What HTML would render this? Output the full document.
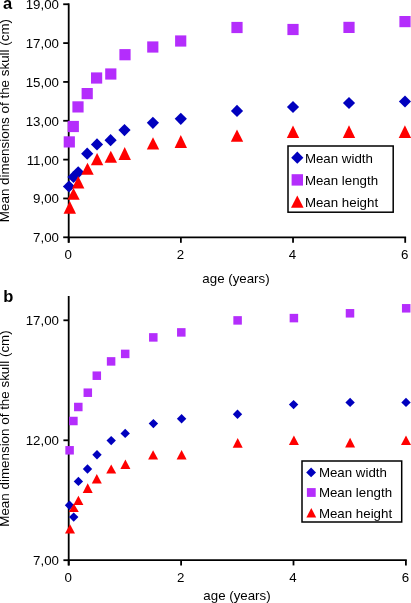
<!DOCTYPE html>
<html><head><meta charset="utf-8"><title>Skull dimensions</title>
<style>
html,body{margin:0;padding:0;background:#fff;}
body{width:411px;height:603px;overflow:hidden;}
svg{display:block;filter:blur(0.35px);}
text{font-family:"Liberation Sans", sans-serif;font-size:13.3px;fill:#000;}
</style></head>
<body>
<svg width="411" height="603" viewBox="0 0 411 603">
<rect width="411" height="603" fill="#fff"/>
<line x1="68.7" y1="3.35" x2="68.7" y2="242.6" stroke="#000" stroke-width="1.8"/>
<line x1="67.8" y1="237.3" x2="406.1" y2="237.3" stroke="#000" stroke-width="1.8"/>
<line x1="63.2" y1="4.25" x2="68.7" y2="4.25" stroke="#000" stroke-width="1.8"/>
<text x="59" y="9.15" text-anchor="end">19,00</text>
<line x1="63.2" y1="43.09" x2="68.7" y2="43.09" stroke="#000" stroke-width="1.8"/>
<text x="59" y="47.99" text-anchor="end">17,00</text>
<line x1="63.2" y1="81.93" x2="68.7" y2="81.93" stroke="#000" stroke-width="1.8"/>
<text x="59" y="86.83" text-anchor="end">15,00</text>
<line x1="63.2" y1="120.78" x2="68.7" y2="120.78" stroke="#000" stroke-width="1.8"/>
<text x="59" y="125.68" text-anchor="end">13,00</text>
<line x1="63.2" y1="159.62" x2="68.7" y2="159.62" stroke="#000" stroke-width="1.8"/>
<text x="59" y="164.52" text-anchor="end">11,00</text>
<line x1="63.2" y1="198.46" x2="68.7" y2="198.46" stroke="#000" stroke-width="1.8"/>
<text x="59" y="203.36" text-anchor="end">9,00</text>
<line x1="63.2" y1="237.3" x2="68.7" y2="237.3" stroke="#000" stroke-width="1.8"/>
<text x="59" y="242.2" text-anchor="end">7,00</text>
<line x1="68.7" y1="237.3" x2="68.7" y2="242.8" stroke="#000" stroke-width="1.8"/>
<text x="68.2" y="259.2" text-anchor="middle">0</text>
<line x1="180.87" y1="237.3" x2="180.87" y2="242.8" stroke="#000" stroke-width="1.8"/>
<text x="180.37" y="259.2" text-anchor="middle">2</text>
<line x1="293.03" y1="237.3" x2="293.03" y2="242.8" stroke="#000" stroke-width="1.8"/>
<text x="292.53" y="259.2" text-anchor="middle">4</text>
<line x1="405.2" y1="237.3" x2="405.2" y2="242.8" stroke="#000" stroke-width="1.8"/>
<text x="404.7" y="259.2" text-anchor="middle">6</text>
<text x="236" y="283.2" text-anchor="middle">age (years)</text>
<text x="0" y="0" text-anchor="middle" transform="translate(9.4 120.55) rotate(-90)" style="font-size:13.4px">Mean dimensions of the skull (cm)</text>
<text x="3" y="8.8" style="font-weight:bold;font-size:16.5px">a</text>
<path d="M69 180.4L75.1 186.5L69 192.6L62.9 186.5Z" fill="#0000be"/>
<path d="M73.5 170.9L79.6 177L73.5 183.1L67.4 177Z" fill="#0000be"/>
<path d="M78.2 166.2L84.3 172.3L78.2 178.4L72.1 172.3Z" fill="#0000be"/>
<path d="M87.2 147.6L93.3 153.7L87.2 159.8L81.1 153.7Z" fill="#0000be"/>
<path d="M97 138.3L103.1 144.4L97 150.5L90.9 144.4Z" fill="#0000be"/>
<path d="M110.6 134.1L116.7 140.2L110.6 146.3L104.5 140.2Z" fill="#0000be"/>
<path d="M124.5 124L130.6 130.1L124.5 136.2L118.4 130.1Z" fill="#0000be"/>
<path d="M152.9 116.7L159 122.8L152.9 128.9L146.8 122.8Z" fill="#0000be"/>
<path d="M180.8 112.7L186.9 118.8L180.8 124.9L174.7 118.8Z" fill="#0000be"/>
<path d="M237 104.8L243.1 110.9L237 117L230.9 110.9Z" fill="#0000be"/>
<path d="M293 100.9L299.1 107L293 113.1L286.9 107Z" fill="#0000be"/>
<path d="M349 96.9L355.1 103L349 109.1L342.9 103Z" fill="#0000be"/>
<path d="M405 95.4L411.1 101.5L405 107.6L398.9 101.5Z" fill="#0000be"/>
<rect x="63.7" y="136.3" width="11.2" height="11.2" fill="#b42dfc"/>
<rect x="67.7" y="120.9" width="11.2" height="11.2" fill="#b42dfc"/>
<rect x="72.4" y="101.3" width="11.2" height="11.2" fill="#b42dfc"/>
<rect x="81.6" y="88" width="11.2" height="11.2" fill="#b42dfc"/>
<rect x="91" y="72.4" width="11.2" height="11.2" fill="#b42dfc"/>
<rect x="105.2" y="68.4" width="11.2" height="11.2" fill="#b42dfc"/>
<rect x="119.4" y="49.1" width="11.2" height="11.2" fill="#b42dfc"/>
<rect x="147.2" y="41.4" width="11.2" height="11.2" fill="#b42dfc"/>
<rect x="175.1" y="35.4" width="11.2" height="11.2" fill="#b42dfc"/>
<rect x="231.4" y="21.9" width="11.2" height="11.2" fill="#b42dfc"/>
<rect x="287.4" y="23.9" width="11.2" height="11.2" fill="#b42dfc"/>
<rect x="343.4" y="21.8" width="11.2" height="11.2" fill="#b42dfc"/>
<rect x="399.4" y="16" width="11.2" height="11.2" fill="#b42dfc"/>
<path d="M69.8 201L76 213.7L63.6 213.7Z" fill="#ff0000"/>
<path d="M73.5 187.9L79.7 199.8L67.3 199.8Z" fill="#ff0000"/>
<path d="M78.2 176.1L84.4 188.5L72 188.5Z" fill="#ff0000"/>
<path d="M87.5 162.7L93.7 174.8L81.3 174.8Z" fill="#ff0000"/>
<path d="M97.1 153.1L103.3 165.2L90.9 165.2Z" fill="#ff0000"/>
<path d="M110.8 150.7L117 162.8L104.6 162.8Z" fill="#ff0000"/>
<path d="M124.7 146.9L130.9 159.9L118.5 159.9Z" fill="#ff0000"/>
<path d="M153 137.3L159.2 149.6L146.8 149.6Z" fill="#ff0000"/>
<path d="M180.8 134.9L187 147.9L174.6 147.9Z" fill="#ff0000"/>
<path d="M237 129.4L243.2 141.8L230.8 141.8Z" fill="#ff0000"/>
<path d="M293 125.5L299.2 137.9L286.8 137.9Z" fill="#ff0000"/>
<path d="M349 125.3L355.2 138L342.8 138Z" fill="#ff0000"/>
<path d="M404.9 125.3L411.1 138L398.7 138Z" fill="#ff0000"/>
<rect x="288" y="146" width="105.2" height="66.2" fill="#fff" stroke="#000" stroke-width="1.5"/>
<path d="M297.3 151.6L303.4 157.7L297.3 163.8L291.2 157.7Z" fill="#0000be"/>
<rect x="291.6" y="174.2" width="11.4" height="11.4" fill="#b42dfc"/>
<path d="M297.3 195.5L303.6 207.8L291 207.8Z" fill="#ff0000"/>
<text x="304.9" y="163" text-anchor="start">Mean width</text>
<text x="304.9" y="185.1" text-anchor="start">Mean length</text>
<text x="304.9" y="206.9" text-anchor="start">Mean height</text>
<line x1="68.7" y1="296" x2="68.7" y2="565.4" stroke="#000" stroke-width="1.8"/>
<line x1="67.8" y1="560.2" x2="406.8" y2="560.2" stroke="#000" stroke-width="1.8"/>
<line x1="63.4" y1="320.3" x2="68.7" y2="320.3" stroke="#000" stroke-width="1.8"/>
<text x="59" y="325.2" text-anchor="end">17,00</text>
<line x1="63.4" y1="440.3" x2="68.7" y2="440.3" stroke="#000" stroke-width="1.8"/>
<text x="59" y="445.2" text-anchor="end">12,00</text>
<line x1="63.4" y1="560.2" x2="68.7" y2="560.2" stroke="#000" stroke-width="1.8"/>
<text x="59" y="565.1" text-anchor="end">7,00</text>
<line x1="68.7" y1="560.2" x2="68.7" y2="565.4" stroke="#000" stroke-width="1.8"/>
<text x="68.2" y="582" text-anchor="middle">0</text>
<line x1="181.1" y1="560.2" x2="181.1" y2="565.4" stroke="#000" stroke-width="1.8"/>
<text x="180.6" y="582" text-anchor="middle">2</text>
<line x1="293.5" y1="560.2" x2="293.5" y2="565.4" stroke="#000" stroke-width="1.8"/>
<text x="293" y="582" text-anchor="middle">4</text>
<line x1="405.9" y1="560.2" x2="405.9" y2="565.4" stroke="#000" stroke-width="1.8"/>
<text x="405.4" y="582" text-anchor="middle">6</text>
<text x="237" y="599.9" text-anchor="middle">age (years)</text>
<text x="0" y="0" text-anchor="middle" transform="translate(9.0 428.5) rotate(-90)" style="font-size:13.4px">Mean dimension of the skull (cm)</text>
<text x="3.2" y="301.9" style="font-weight:bold;font-size:16.5px">b</text>
<path d="M69.5 500.5L74.2 505.2L69.5 509.9L64.8 505.2Z" fill="#0000be"/>
<path d="M73.7 512.4L78.4 517.1L73.7 521.8L69 517.1Z" fill="#0000be"/>
<path d="M78.4 476.7L83.1 481.4L78.4 486.1L73.7 481.4Z" fill="#0000be"/>
<path d="M87.5 464.3L92.2 469L87.5 473.7L82.8 469Z" fill="#0000be"/>
<path d="M97 450.1L101.7 454.8L97 459.5L92.3 454.8Z" fill="#0000be"/>
<path d="M111.2 435.9L115.9 440.6L111.2 445.3L106.5 440.6Z" fill="#0000be"/>
<path d="M125.2 428.7L129.9 433.4L125.2 438.1L120.5 433.4Z" fill="#0000be"/>
<path d="M153.4 418.9L158.1 423.6L153.4 428.3L148.7 423.6Z" fill="#0000be"/>
<path d="M181.6 414.1L186.3 418.8L181.6 423.5L176.9 418.8Z" fill="#0000be"/>
<path d="M237.5 409.5L242.2 414.2L237.5 418.9L232.8 414.2Z" fill="#0000be"/>
<path d="M293.6 399.9L298.3 404.6L293.6 409.3L288.9 404.6Z" fill="#0000be"/>
<path d="M350.1 397.7L354.8 402.4L350.1 407.1L345.4 402.4Z" fill="#0000be"/>
<path d="M406 397.7L410.7 402.4L406 407.1L401.3 402.4Z" fill="#0000be"/>
<rect x="65.35" y="446.05" width="8.5" height="8.5" fill="#b42dfc"/>
<rect x="69.15" y="416.75" width="8.5" height="8.5" fill="#b42dfc"/>
<rect x="74.05" y="402.75" width="8.5" height="8.5" fill="#b42dfc"/>
<rect x="83.55" y="388.45" width="8.5" height="8.5" fill="#b42dfc"/>
<rect x="92.55" y="371.45" width="8.5" height="8.5" fill="#b42dfc"/>
<rect x="106.85" y="357.15" width="8.5" height="8.5" fill="#b42dfc"/>
<rect x="120.95" y="349.65" width="8.5" height="8.5" fill="#b42dfc"/>
<rect x="149.05" y="333.15" width="8.5" height="8.5" fill="#b42dfc"/>
<rect x="177.05" y="328.15" width="8.5" height="8.5" fill="#b42dfc"/>
<rect x="233.35" y="316.15" width="8.5" height="8.5" fill="#b42dfc"/>
<rect x="289.65" y="313.85" width="8.5" height="8.5" fill="#b42dfc"/>
<rect x="345.75" y="309.05" width="8.5" height="8.5" fill="#b42dfc"/>
<rect x="401.95" y="304.05" width="8.5" height="8.5" fill="#b42dfc"/>
<path d="M70 524.3L75 533.4L65 533.4Z" fill="#ff0000"/>
<path d="M73.8 503.4L78.8 511.9L68.8 511.9Z" fill="#ff0000"/>
<path d="M78.4 495.7L83.4 504.9L73.4 504.9Z" fill="#ff0000"/>
<path d="M87.7 483.3L92.7 493L82.7 493Z" fill="#ff0000"/>
<path d="M96.8 474L101.8 483.6L91.8 483.6Z" fill="#ff0000"/>
<path d="M111.2 464.4L116.2 473.6L106.2 473.6Z" fill="#ff0000"/>
<path d="M125.4 459.6L130.4 469L120.4 469Z" fill="#ff0000"/>
<path d="M153.1 450.2L158.1 459.6L148.1 459.6Z" fill="#ff0000"/>
<path d="M181.6 449.9L186.6 459.6L176.6 459.6Z" fill="#ff0000"/>
<path d="M237.7 437.9L242.7 447.7L232.7 447.7Z" fill="#ff0000"/>
<path d="M293.9 435.6L298.9 445L288.9 445Z" fill="#ff0000"/>
<path d="M350.1 437.8L355.1 447.4L345.1 447.4Z" fill="#ff0000"/>
<path d="M406 435.6L411 445.1L401 445.1Z" fill="#ff0000"/>
<rect x="302" y="461" width="99.7" height="61" fill="#fff" stroke="#000" stroke-width="1.5"/>
<path d="M311.1 467.5L316 472.4L311.1 477.3L306.2 472.4Z" fill="#0000be"/>
<rect x="306.9" y="488.1" width="8.8" height="8.8" fill="#b42dfc"/>
<path d="M311.3 508L316.2 517.5L306.4 517.5Z" fill="#ff0000"/>
<text x="318.9" y="476.6" text-anchor="start">Mean width</text>
<text x="318.9" y="496.8" text-anchor="start">Mean length</text>
<text x="318.9" y="517.5" text-anchor="start">Mean height</text>
</svg>
</body></html>
